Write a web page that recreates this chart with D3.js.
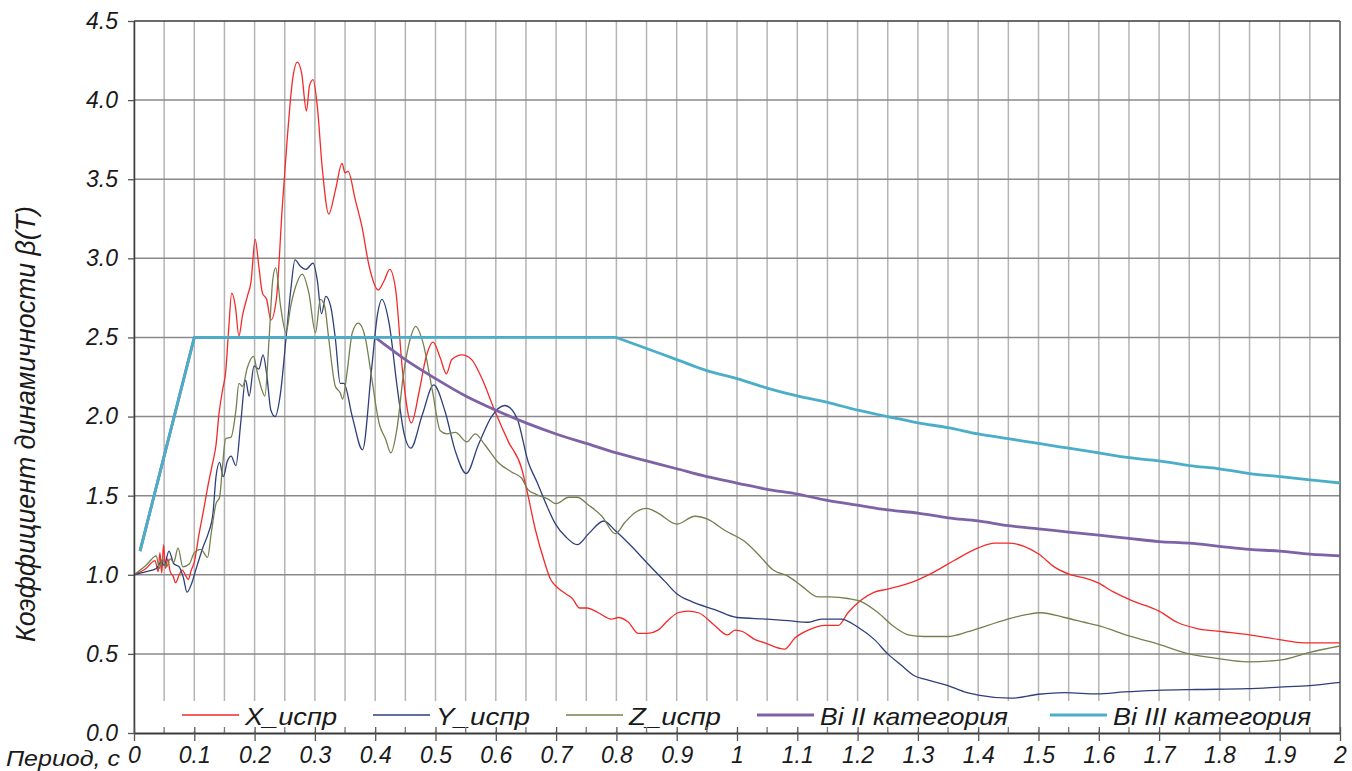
<!DOCTYPE html>
<html>
<head>
<meta charset="utf-8">
<script src="https://cdn.jsdelivr.net/npm/d3@7"></script>
<style>
  body { margin: 0; background: #fff; }
  text { font-family: "Liberation Sans", Arial, sans-serif; font-style: italic; fill: #1a1a1a; }
</style>
</head>
<body>
<svg id="chart"></svg>
<script>
// Period T (s) / dynamic coefficient value pairs
const seriesX = [
  [0,1.00],[0.02,1.04],[0.035,1.09],[0.04,1.02],[0.043,1.14],[0.046,1.01],[0.049,1.19],[0.052,1.04],
  [0.056,1.10],[0.06,1.02],[0.065,0.99],[0.069,0.95],[0.075,1.00],[0.08,1.03],[0.085,1.00],[0.09,0.97],
  [0.095,1.03],[0.1,1.08],[0.108,1.26],[0.115,1.40],[0.122,1.55],[0.13,1.70],[0.136,1.82],[0.141,2.02],
  [0.147,2.17],[0.152,2.28],[0.157,2.55],[0.162,2.78],[0.168,2.70],[0.174,2.51],[0.18,2.64],[0.188,2.76],
  [0.194,2.85],[0.201,3.12],[0.207,2.95],[0.213,2.78],[0.22,2.74],[0.227,2.61],[0.236,2.74],[0.246,3.33],
  [0.254,3.75],[0.263,4.13],[0.271,4.24],[0.278,4.17],[0.286,3.93],[0.291,4.09],[0.297,4.13],[0.304,3.96],
  [0.312,3.58],[0.323,3.28],[0.334,3.43],[0.345,3.60],[0.35,3.54],[0.355,3.55],[0.367,3.37],[0.378,3.20],
  [0.39,2.95],[0.405,2.80],[0.415,2.86],[0.424,2.93],[0.434,2.80],[0.445,2.30],[0.46,1.96],[0.473,2.16],
  [0.484,2.37],[0.496,2.47],[0.508,2.37],[0.518,2.27],[0.527,2.36],[0.544,2.39],[0.56,2.36],[0.577,2.24],
  [0.599,2.03],[0.621,1.84],[0.643,1.67],[0.65,1.56],[0.666,1.28],[0.68,1.09],[0.691,0.97],[0.702,0.92],
  [0.716,0.88],[0.727,0.85],[0.739,0.79],[0.751,0.79],[0.77,0.76],[0.792,0.72],[0.803,0.73],[0.82,0.70],
  [0.836,0.63],[0.852,0.63],[0.869,0.65],[0.885,0.71],[0.902,0.76],[0.919,0.77],[0.936,0.76],[0.963,0.68],
  [0.984,0.62],[0.997,0.65],[1.01,0.64],[1.03,0.59],[1.046,0.57],[1.079,0.53],[1.096,0.60],[1.118,0.65],
  [1.146,0.68],[1.168,0.68],[1.184,0.76],[1.206,0.84],[1.228,0.89],[1.25,0.91],[1.295,0.96],[1.328,1.02],
  [1.36,1.09],[1.40,1.17],[1.427,1.20],[1.45,1.20],[1.476,1.18],[1.501,1.13],[1.526,1.05],[1.554,1.00],
  [1.576,0.98],[1.598,0.95],[1.625,0.89],[1.653,0.84],[1.70,0.77],[1.73,0.70],[1.763,0.66],[1.807,0.64],
  [1.85,0.62],[1.90,0.59],[1.94,0.57],[1.967,0.57],[2.0,0.57]
];

const seriesY = [
  [0,1.00],[0.02,1.02],[0.037,1.04],[0.045,1.08],[0.05,1.06],[0.058,1.15],[0.066,1.07],[0.075,1.05],
  [0.082,0.98],[0.088,0.89],[0.096,0.95],[0.104,1.05],[0.115,1.18],[0.123,1.26],[0.131,1.39],[0.136,1.62],
  [0.142,1.71],[0.148,1.62],[0.155,1.72],[0.161,1.75],[0.169,1.69],[0.177,1.96],[0.185,2.23],[0.191,2.13],
  [0.199,2.32],[0.207,2.30],[0.214,2.39],[0.22,2.27],[0.227,2.04],[0.234,2.00],[0.243,2.15],[0.252,2.49],
  [0.26,2.80],[0.267,2.99],[0.276,2.95],[0.285,2.93],[0.297,2.97],[0.304,2.86],[0.311,2.65],[0.318,2.76],
  [0.326,2.70],[0.334,2.49],[0.342,2.21],[0.348,2.21],[0.362,2.00],[0.379,1.79],[0.394,2.30],[0.404,2.65],
  [0.411,2.74],[0.423,2.59],[0.437,2.17],[0.448,1.89],[0.459,1.80],[0.478,2.01],[0.497,2.20],[0.516,2.03],
  [0.533,1.78],[0.551,1.64],[0.571,1.82],[0.593,2.00],[0.615,2.07],[0.635,1.99],[0.654,1.71],[0.669,1.58],
  [0.683,1.45],[0.699,1.32],[0.716,1.24],[0.735,1.19],[0.754,1.26],[0.779,1.34],[0.798,1.28],[0.825,1.18],
  [0.852,1.07],[0.88,0.96],[0.9,0.88],[0.925,0.83],[0.963,0.78],[1.0,0.73],[1.05,0.72],[1.085,0.71],
  [1.118,0.70],[1.14,0.72],[1.173,0.72],[1.2,0.67],[1.228,0.59],[1.25,0.50],[1.272,0.43],[1.295,0.36],
  [1.311,0.34],[1.35,0.30],[1.377,0.26],[1.40,0.24],[1.455,0.22],[1.50,0.245],[1.543,0.255],[1.598,0.247],
  [1.642,0.26],[1.697,0.27],[1.763,0.275],[1.846,0.28],[1.90,0.29],[1.95,0.30],[2.0,0.32]
];

const seriesZ = [
  [0,1.00],[0.02,1.06],[0.037,1.12],[0.042,1.04],[0.047,1.10],[0.054,1.05],[0.06,1.10],[0.066,1.08],
  [0.073,1.17],[0.081,1.05],[0.092,1.07],[0.1,1.14],[0.111,1.16],[0.122,1.11],[0.128,1.26],[0.136,1.45],
  [0.142,1.49],[0.146,1.65],[0.152,1.86],[0.161,1.87],[0.169,2.04],[0.174,2.21],[0.18,2.19],[0.188,2.31],
  [0.198,2.38],[0.205,2.27],[0.212,2.17],[0.217,2.13],[0.224,2.49],[0.23,2.86],[0.235,2.94],[0.243,2.70],
  [0.252,2.53],[0.26,2.70],[0.268,2.82],[0.279,2.90],[0.29,2.78],[0.301,2.53],[0.309,2.74],[0.316,2.70],
  [0.323,2.49],[0.334,2.19],[0.342,2.15],[0.346,2.11],[0.353,2.27],[0.362,2.53],[0.372,2.59],[0.384,2.49],
  [0.392,2.30],[0.407,1.95],[0.417,1.86],[0.426,1.77],[0.436,1.92],[0.447,2.27],[0.458,2.49],[0.467,2.57],
  [0.479,2.47],[0.495,2.16],[0.508,1.91],[0.519,1.89],[0.533,1.90],[0.552,1.84],[0.566,1.89],[0.582,1.82],
  [0.604,1.71],[0.626,1.65],[0.643,1.61],[0.653,1.54],[0.666,1.51],[0.686,1.48],[0.70,1.45],[0.721,1.49],
  [0.735,1.49],[0.754,1.44],[0.776,1.37],[0.798,1.26],[0.814,1.33],[0.83,1.39],[0.85,1.42],[0.869,1.39],
  [0.9,1.32],[0.93,1.37],[0.952,1.35],[0.98,1.28],[1.013,1.21],[1.035,1.13],[1.06,1.03],[1.085,0.99],
  [1.107,0.93],[1.135,0.86],[1.154,0.86],[1.184,0.85],[1.206,0.83],[1.234,0.76],[1.261,0.67],[1.284,0.62],
  [1.311,0.61],[1.35,0.61],[1.383,0.64],[1.416,0.68],[1.449,0.72],[1.482,0.75],[1.504,0.76],[1.543,0.73],
  [1.576,0.70],[1.598,0.68],[1.653,0.61],[1.70,0.56],[1.75,0.50],[1.799,0.47],[1.846,0.45],[1.90,0.46],
  [1.95,0.51],[2.0,0.55]
];

// Normative curves (Bi): straight ramp + plateau, then the decaying tail
const bi2Ramp = [[0.01,1.15],[0.1,2.5],[0.4,2.5]];
const bi2Tail = [
  [0.4,2.5],[0.45,2.36],[0.5,2.24],[0.55,2.13],[0.6,2.04],[0.65,1.96],[0.7,1.89],[0.75,1.83],[0.8,1.77],
  [0.85,1.72],[0.9,1.67],[0.95,1.62],[1.0,1.58],[1.05,1.54],[1.1,1.51],[1.15,1.47],[1.2,1.44],[1.25,1.41],
  [1.3,1.39],[1.35,1.36],[1.4,1.34],[1.45,1.31],[1.5,1.29],[1.55,1.27],[1.6,1.25],[1.65,1.23],[1.7,1.21],
  [1.75,1.20],[1.8,1.18],[1.85,1.16],[1.9,1.15],[1.95,1.13],[2.0,1.12]
];
const bi3Ramp = [[0.01,1.15],[0.1,2.5],[0.8,2.5]];
const bi3Tail = [
  [0.8,2.5],[0.85,2.43],[0.9,2.36],[0.95,2.29],[1.0,2.24],[1.05,2.18],[1.1,2.13],[1.15,2.09],[1.2,2.04],
  [1.25,2.00],[1.3,1.96],[1.35,1.93],[1.4,1.89],[1.45,1.86],[1.5,1.83],[1.55,1.80],[1.6,1.77],[1.65,1.74],
  [1.7,1.72],[1.75,1.69],[1.8,1.67],[1.85,1.64],[1.9,1.62],[1.95,1.60],[2.0,1.58]
];

const xTicks = [0,0.1,0.2,0.3,0.4,0.5,0.6,0.7,0.8,0.9,1,1.1,1.2,1.3,1.4,1.5,1.6,1.7,1.8,1.9,2];
const xTickLabels = ['0','0.1','0.2','0.3','0.4','0.5','0.6','0.7','0.8','0.9','1','1.1','1.2','1.3','1.4','1.5','1.6','1.7','1.8','1.9','2'];
const xMinorTicks = [0.05,0.15,0.25,0.35,0.45,0.55,0.65,0.75,0.85,0.95,1.05,1.15,1.25,1.35,1.45,1.55,1.65,1.75,1.85,1.95];
const yTicks = [0,0.5,1,1.5,2,2.5,3,3.5,4,4.5];

const seriesNames = ['X_испр', 'Y_испр', 'Z_испр', 'Bi II категория', 'Bi III категория'];
const seriesColors = ['#f42a2a', '#2f3f7a', '#74804f', '#7e62a6', '#4aaec8'];

const width = 1352, height = 771;
const margin = { left: 134, right: 1340, top: 21, bottom: 733 };

// Legend layout (item start and text width, px)
const legendStarts = [182, 373, 566, 757, 1050];
const legendTextWidths = [92, 94, 92, 188, 198];

const svg = d3.select('#chart').attr('width', width).attr('height', height);
svg.append('rect').attr('width', width).attr('height', height).attr('fill', '#fff');

const x = d3.scaleLinear().domain([0, 2]).range([margin.left, margin.right]);
const y = d3.scaleLinear().domain([0, 4.5]).range([margin.bottom, margin.top]);

// Grid
svg.append('g').selectAll('line')
  .data(xTicks.concat(xMinorTicks))
  .join('line')
  .attr('x1', d => x(d)).attr('x2', d => x(d))
  .attr('y1', y(4.5)).attr('y2', y(0))
  .attr('stroke', '#b4b4b4').attr('stroke-width', 1.5);

svg.append('g').selectAll('line')
  .data(yTicks.filter(d => d > 0 && d < 4.5))
  .join('line')
  .attr('x1', x(0)).attr('x2', x(2))
  .attr('y1', d => y(d)).attr('y2', d => y(d))
  .attr('stroke', '#8a8a8a').attr('stroke-width', 1.5);

// Plot border (top and right)
svg.append('line').attr('x1', x(0)).attr('x2', x(2)).attr('y1', y(4.5)).attr('y2', y(4.5))
  .attr('stroke', '#3a3a3a').attr('stroke-width', 1.5);
svg.append('line').attr('x1', x(2)).attr('x2', x(2)).attr('y1', y(4.5)).attr('y2', y(0))
  .attr('stroke', '#666').attr('stroke-width', 1.5);

// Series lines
const smooth = d3.line().x(d => x(d[0])).y(d => y(d[1])).curve(d3.curveMonotoneX);
const straight = d3.line().x(d => x(d[0])).y(d => y(d[1]));

const paths = [
  { d: smooth(seriesX), c: seriesColors[0], w: 1.3 },
  { d: smooth(seriesY), c: seriesColors[1], w: 1.3 },
  { d: smooth(seriesZ), c: seriesColors[2], w: 1.3 },
  { d: straight(bi2Ramp) + smooth(bi2Tail).replace(/^M/, 'L'), c: seriesColors[3], w: 2.8 },
  { d: straight(bi3Ramp) + smooth(bi3Tail).replace(/^M/, 'L'), c: seriesColors[4], w: 2.8 }
];

paths.forEach(p => {
  svg.append('path')
    .attr('d', p.d)
    .attr('fill', 'none')
    .attr('stroke', p.c)
    .attr('stroke-width', p.w)
    .attr('stroke-linejoin', 'round');
});

// Legend box covers the bottom of the grid
const legend = svg.append('g');
legend.append('rect')
  .attr('x', x(0) + 2).attr('y', 701)
  .attr('width', x(2) - x(0) - 4).attr('height', 30)
  .attr('fill', '#fff');

seriesNames.forEach((name, i) => {
  const lx = legendStarts[i];
  legend.append('line')
    .attr('x1', lx).attr('x2', lx + 57)
    .attr('y1', 715).attr('y2', 715)
    .attr('stroke', seriesColors[i])
    .attr('stroke-width', i < 3 ? 1.3 : 2.8);
  legend.append('text')
    .attr('x', lx + 63).attr('y', 725)
    .attr('font-size', 24)
    .attr('textLength', legendTextWidths[i])
    .attr('lengthAdjust', 'spacingAndGlyphs')
    .text(name);
});

// Axes
const xAxis = svg.append('g')
  .attr('transform', `translate(0,${margin.bottom})`)
  .call(d3.axisBottom(x).tickValues(xTicks).tickFormat((d, i) => xTickLabels[i])
    .tickSize(8).tickSizeOuter(0).tickPadding(6));
xAxis.select('.domain').attr('stroke', '#3a3a3a').attr('stroke-width', 2);
xAxis.selectAll('.tick line').attr('stroke', '#555').attr('stroke-width', 1.3).attr('y1', -6);
xAxis.selectAll('.tick text').attr('font-size', 23).attr('font-family', null).attr('fill', '#1a1a1a');
xAxis.append('g').selectAll('line')
  .data(xMinorTicks)
  .join('line')
  .attr('x1', d => x(d)).attr('x2', d => x(d))
  .attr('y1', -6).attr('y2', 0)
  .attr('stroke', '#777').attr('stroke-width', 1.3);

const yAxis = svg.append('g')
  .attr('transform', `translate(${margin.left},0)`)
  .call(d3.axisLeft(y).tickValues(yTicks).tickFormat(d3.format('.1f'))
    .tickSize(6).tickSizeOuter(0).tickPadding(10));
yAxis.select('.domain').attr('stroke', '#3a3a3a').attr('stroke-width', 1.5);
yAxis.selectAll('.tick line').attr('stroke', '#555').attr('stroke-width', 1.3);
yAxis.selectAll('.tick text').attr('font-size', 23).attr('font-family', null).attr('fill', '#1a1a1a');
xAxis.raise();

// Axis titles
svg.append('text')
  .attr('x', 120).attr('y', 766)
  .attr('text-anchor', 'end')
  .attr('font-size', 22)
  .attr('textLength', 114)
  .attr('lengthAdjust', 'spacingAndGlyphs')
  .text('Период, с');

svg.append('text')
  .attr('transform', 'translate(35,424) rotate(-90)')
  .attr('text-anchor', 'middle')
  .attr('font-size', 27)
  .attr('textLength', 436)
  .attr('lengthAdjust', 'spacingAndGlyphs')
  .text('Коэффициент динамичности β(T)');
</script>
</body>
</html>
